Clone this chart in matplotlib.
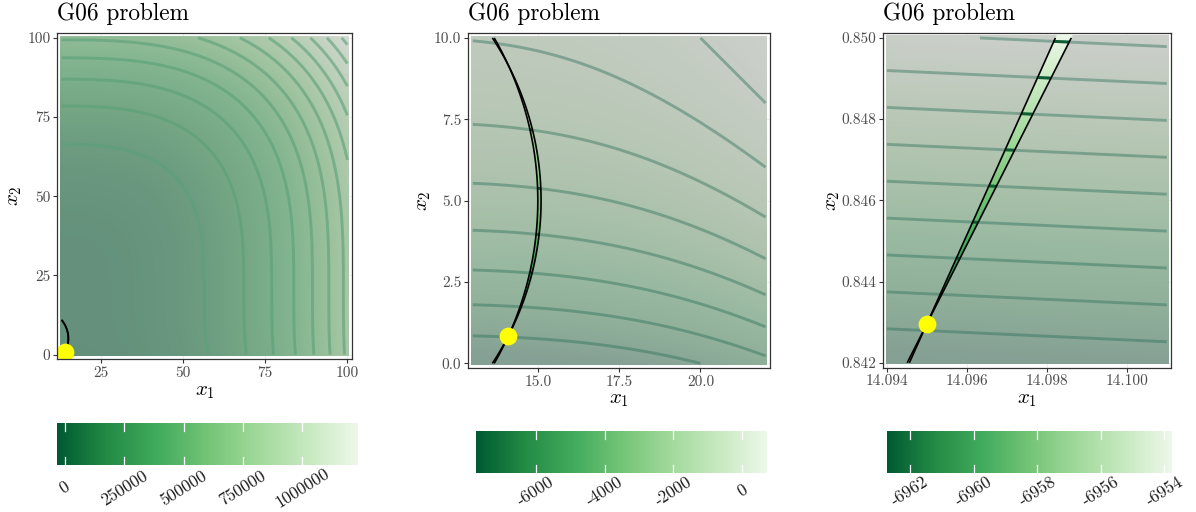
import numpy as np
import matplotlib
matplotlib.use("Agg")
import matplotlib.pyplot as plt
from matplotlib.colors import LinearSegmentedColormap

plt.rcParams['font.family'] = ['cmr10', 'DejaVu Serif']
plt.rcParams['mathtext.fontset'] = 'cm'
plt.rcParams['axes.formatter.use_mathtext'] = True
plt.rcParams['axes.unicode_minus'] = False
plt.rcParams['contour.negative_linestyle'] = 'solid'

# ---------------- data ----------------
title = "G06 problem"
obj_shift = [10.0, 20.0]          # f = (x1-10)^3 + (x2-20)^3
c1_center = [5.0, 5.0]            # g1 = -(x1-5)^2-(x2-5)^2+100 <= 0
c1_r2 = 100.0
c2_center = [6.0, 5.0]            # g2 = (x1-6)^2+(x2-5)^2-82.81 <= 0
c2_r2 = 82.81
optimum = [14.095, 0.84296]

x1_lo = [13.0, 13.0, 14.094]
x1_hi = [100.0, 22.0, 14.101]
x2_lo = [0.0, 0.0, 0.842]
x2_hi = [100.0, 10.0, 0.850]

levels = [
    [100000, 200000, 300000, 400000, 500000, 600000, 700000, 800000,
     900000, 1000000, 1100000, 1200000],
    [-7000, -6000, -5000, -4000, -3000, -2000, -1000, 0],
    [-6962, -6961, -6960, -6959, -6958, -6957, -6956, -6955, -6954],
]
xticks = [[25, 50, 75, 100], [15.0, 17.5, 20.0], [14.094, 14.096, 14.098, 14.100]]
xtick_labels = [["25", "50", "75", "100"], ["15.0", "17.5", "20.0"],
                ["14.094", "14.096", "14.098", "14.100"]]
yticks = [[0, 25, 50, 75, 100], [0.0, 2.5, 5.0, 7.5, 10.0],
          [0.842, 0.844, 0.846, 0.848, 0.850]]
ytick_labels = [["0", "25", "50", "75", "100"], ["0.0", "2.5", "5.0", "7.5", "10.0"],
                ["0.842", "0.844", "0.846", "0.848", "0.850"]]
cbar_ticks = [[0, 250000, 500000, 750000, 1000000],
              [-6000, -4000, -2000, 0],
              [-6962, -6960, -6958, -6956, -6954]]
cbar_labels = [["0", "250000", "500000", "750000", "1000000"],
               ["-6000", "-4000", "-2000", "0"],
               ["-6962", "-6960", "-6958", "-6956", "-6954"]]
cbar_lo = [-33700.0, -7734.0, -6962.71]
cbar_hi = [1234800.0, 709.0, -6953.77]

greens = ['#005a32', '#238b45', '#41ab5d', '#74c476', '#a1d99b', '#c7e9c0', '#edf8e9']

# ---------------- styling / layout ----------------
W, H = 1196, 512
panel_px = [(57.3, 33, 351.7, 359.3), (468.3, 33, 770, 368.3), (882.7, 33, 1171, 367.7)]
cbar_px = [(57, 422.7, 358, 465), (476, 430.7, 766.7, 473.3), (887.3, 430.7, 1171.7, 473.3)]
cbar_label_y = [488, 491, 491]
xlab_y = [392, 400, 400]
ylab_x = [15, 424, 833]
overlay_alpha = [0.52, 0.70, 0.70]
overlay_grey = 190 / 255.0
line_color = ['#5aa078', '#2a6e58', '#2a6e58']
line_alpha = [0.6, 0.42, 0.42]

cmap = LinearSegmentedColormap.from_list('greens', greens)


def rect(l, t, r, b):
    return [l / W, 1 - b / H, (r - l) / W, (b - t) / H]


def fobj(X, Y):
    return (X - obj_shift[0]) ** 3 + (Y - obj_shift[1]) ** 3


def g1(X, Y):
    return -(X - c1_center[0]) ** 2 - (Y - c1_center[1]) ** 2 + c1_r2


def g2(X, Y):
    return (X - c2_center[0]) ** 2 + (Y - c2_center[1]) ** 2 - c2_r2


fig = plt.figure(figsize=(W / 100, H / 100), dpi=100)

for i in range(3):
    ax = fig.add_axes(rect(*panel_px[i]))
    a0, a1, b0, b1 = x1_lo[i], x1_hi[i], x2_lo[i], x2_hi[i]
    sx = (a1 - a0) / 99.0
    sy = (b1 - b0) / 99.0
    ex0, ex1 = a0 - sx / 2, a1 + sx / 2
    ey0, ey1 = b0 - sy / 2, b1 + sy / 2
    px_ = 0.01 * (ex1 - ex0)
    py_ = 0.01 * (ey1 - ey0)
    ax.set_xlim(ex0 - px_, ex1 + px_)
    ax.set_ylim(ey0 - py_, ey1 + py_)

    # raster image (high resolution for crisp feasible region)
    N = 900
    xs = np.linspace(ex0, ex1, N)
    ys = np.linspace(ey0, ey1, N)
    X, Y = np.meshgrid(xs, ys)
    F = fobj(X, Y)
    T = np.clip((F - cbar_lo[i]) / (cbar_hi[i] - cbar_lo[i]), 0, 1)
    C = cmap(T)[..., :3]
    feas = (g1(X, Y) <= 0) & (g2(X, Y) <= 0)
    a = overlay_alpha[i]
    over = (1 - a) * C + a * overlay_grey
    img = np.where(feas[..., None], C, over)
    ax.imshow(img, extent=(ex0, ex1, ey0, ey1), origin='lower', aspect='auto',
              interpolation='antialiased', zorder=1)

    # contours on data grid
    M = 500
    cx = np.linspace(a0, a1, M)
    cy = np.linspace(b0, b1, M)
    CX, CY = np.meshgrid(cx, cy)
    CF = fobj(CX, CY)
    ax.contour(CX, CY, CF, levels=levels[i], colors=line_color[i],
               linewidths=2.1, alpha=line_alpha[i], linestyles='solid', zorder=2)
    cfeas = (g1(CX, CY) <= 0) & (g2(CX, CY) <= 0)
    if cfeas.sum() > 0:
        CFm = np.ma.masked_where(~cfeas, CF)
        ax.contour(CX, CY, CFm, levels=levels[i], colors='#0d5e33',
                   linewidths=2.1, linestyles='solid', zorder=3)
    ax.contour(CX, CY, g1(CX, CY), levels=[0], colors='black', linewidths=1.2,
               linestyles='solid', zorder=4)
    ax.contour(CX, CY, g2(CX, CY), levels=[0], colors='black', linewidths=1.2,
               linestyles='solid', zorder=4)

    ax.plot([optimum[0]], [optimum[1]], 'o', color='#ffff00', ms=12.8, mec='none', zorder=6)

    ax.set_xticks(xticks[i])
    ax.set_xticklabels(xtick_labels[i])
    ax.set_yticks(yticks[i])
    ax.set_yticklabels(ytick_labels[i])
    ax.tick_params(direction='out', length=2.9, width=0.8, color='#333333',
                   labelcolor='#4d4d4d', labelsize=11, pad=2)
    for s in ax.spines.values():
        s.set_color('#333333')
        s.set_linewidth(0.9)
        s.set_zorder(7)
    ax.grid(True, color='#ebebeb', lw=0.6, zorder=0)
    ax.set_axisbelow(True)

    l, t, r, b = panel_px[i]
    fig.text(l / W, 1 - 20 / H, title, ha='left', va='baseline', fontsize=16.8, color='black')
    fig.text((l + r) / 2 / W, 1 - xlab_y[i] / H, r'$x_1$', ha='center', va='center', fontsize=15)
    fig.text(ylab_x[i] / W, 1 - (t + b) / 2 / H, r'$x_2$', ha='center', va='center',
             fontsize=15, rotation=90)

    # colour bar
    cax = fig.add_axes(rect(*cbar_px[i]))
    grad = np.linspace(0, 1, 512)[None, :]
    cax.imshow(cmap(grad), extent=(cbar_lo[i], cbar_hi[i], 0, 1), aspect='auto',
               interpolation='bilinear')
    cax.set_xlim(cbar_lo[i], cbar_hi[i])
    cax.set_ylim(0, 1)
    cax.axis('off')
    for tk, lab in zip(cbar_ticks[i], cbar_labels[i]):
        cax.plot([tk, tk], [0, 0.2], color='white', lw=0.9)
        cax.plot([tk, tk], [0.8, 1.0], color='white', lw=0.9)
        xf = cbar_px[i][0] + (tk - cbar_lo[i]) / (cbar_hi[i] - cbar_lo[i]) * (cbar_px[i][2] - cbar_px[i][0])
        fig.text(xf / W, 1 - cbar_label_y[i] / H, lab, rotation=32, ha='center', va='center',
                 fontsize=12.5, color='#1a1a1a')

fig.savefig('out.png', dpi=100)
